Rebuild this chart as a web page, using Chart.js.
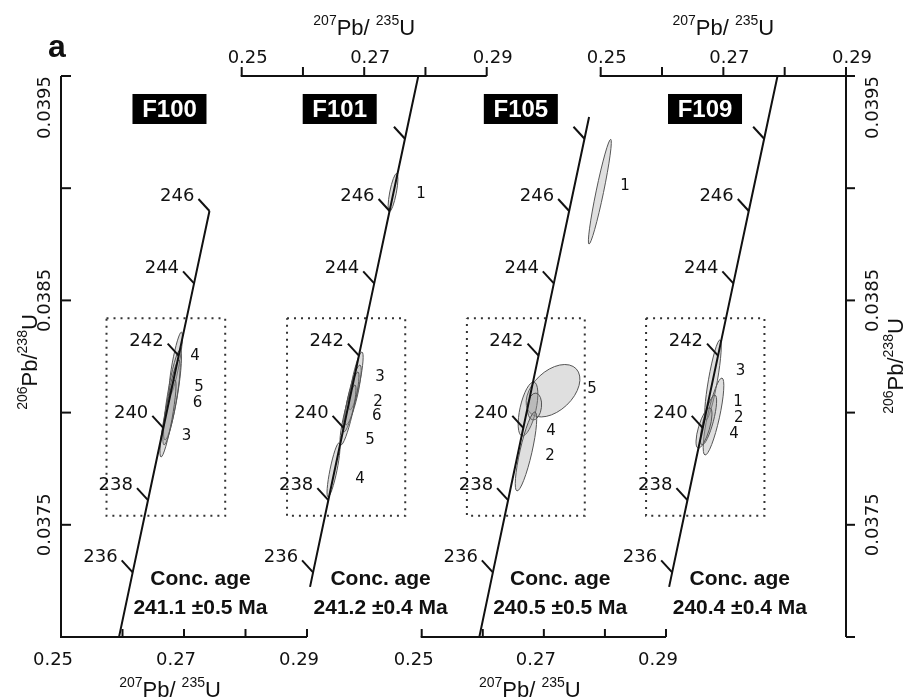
<!DOCTYPE html>
<html><head><meta charset="utf-8">
<script src="https://cdn.jsdelivr.net/npm/chart.js@4.4.0/dist/chart.umd.min.js"></script>
<style>html,body{margin:0;padding:0;background:#fff;}canvas{display:block;}</style>
</head><body>
<canvas id="c" width="913" height="700"></canvas>
<script>
// ---------------- DATA ----------------
const panelNames = ['F100', 'F101', 'F105', 'F109'];
const concAgeText = ['241.1 \u00b10.5 Ma', '241.2 \u00b10.4 Ma', '240.5 \u00b10.5 Ma', '240.4 \u00b10.4 Ma'];

// concordia (207Pb/235U, 206Pb/238U) at ages in Ma
const concordiaAges = [234, 236, 238, 240, 242, 244, 246, 248, 250];
const concordiaX = [0.259173, 0.261655, 0.264143, 0.266636, 0.269133, 0.271635, 0.274142, 0.276654, 0.279171];
const concordiaY = [0.0369661, 0.0372878, 0.0376097, 0.0379316, 0.0382538, 0.0385759, 0.0388982, 0.0392205, 0.0395430];
const endAges = [235.6, 248.6];
const endX = [0.261158, 0.277406];
const endY = [0.0372234, 0.0393173];
const lineFrom = [234, 235.6, 234, 235.6];
const lineTo = [246, 250, 248.6, 250];
const tickAges = [236, 238, 240, 242, 244, 246, 248];
const tickText = ['236', '238', '240', '242', '244', '246', ''];

const xTickValues = [0.25, 0.26, 0.27, 0.28, 0.29];
const xTickLabels = ['0.25', '', '0.27', '', '0.29'];
const yTickValues = [0.0375, 0.0380, 0.0385, 0.0390, 0.0395];
const yTickLabels = ['0.0375', '', '0.0385', '', '0.0395'];

// zoom window (dotted box) in each panel
const zoomBoxX = [0.2574, 0.2767];
const zoomBoxY = [0.03754, 0.03842];

// error ellipses: panel index, major-axis ends (x1,y1)-(x2,y2), minor half-width in 207/235 units
const ellPanel = [0, 0, 0, 0, 1, 1, 1, 1, 1, 1, 2, 2, 2, 2, 2, 3, 3, 3, 3];
const ellX1 = [0.26959, 0.26935, 0.26919, 0.26854, 0.27531, 0.26964, 0.26931, 0.26899, 0.26850, 0.26589, 0.28095, 0.27530, 0.26839, 0.26871, 0.26855, 0.26945, 0.26978, 0.26864, 0.26782];
const ellY1 = [0.038359, 0.038279, 0.038234, 0.038145, 0.039066, 0.038270, 0.038212, 0.038181, 0.038123, 0.037865, 0.039218, 0.038195, 0.038136, 0.038087, 0.038003, 0.038324, 0.038154, 0.038078, 0.038021];
const ellX2 = [0.26772, 0.26691, 0.26675, 0.26626, 0.27410, 0.26768, 0.26703, 0.26670, 0.26621, 0.26409, 0.27739, 0.26770, 0.26642, 0.26822, 0.26560, 0.26717, 0.26701, 0.26652, 0.26587];
const ellY2 = [0.038078, 0.037878, 0.037856, 0.037802, 0.038895, 0.038012, 0.037945, 0.037914, 0.037856, 0.037624, 0.038751, 0.038000, 0.037896, 0.037967, 0.037651, 0.037967, 0.037811, 0.037856, 0.037842];
const ellHalfW = [0.00057, 0.00081, 0.00073, 0.00065, 0.00054, 0.00065, 0.00073, 0.00065, 0.00065, 0.00057, 0.00061, 0.00325, 0.00131, 0.00115, 0.00098, 0.00073, 0.00098, 0.00082, 0.0009];

// analysis numbers
const numPanel = [0, 0, 0, 0, 1, 1, 1, 1, 1, 1, 2, 2, 2, 2, 3, 3, 3, 3];
const numText = ['4', '5', '6', '3', '1', '3', '2', '6', '5', '4', '1', '5', '4', '2', '3', '1', '2', '4'];
const numX = [0.27179, 0.27244, 0.27220, 0.27041, 0.27927, 0.27258, 0.27225, 0.27204, 0.27095, 0.26931, 0.28329, 0.27788, 0.27117, 0.27101, 0.27280, 0.27239, 0.27250, 0.27174];
const numY = [0.038252, 0.038112, 0.038043, 0.037896, 0.038974, 0.038160, 0.038047, 0.037985, 0.037878, 0.037704, 0.039010, 0.038105, 0.037918, 0.037807, 0.038183, 0.038045, 0.037976, 0.037905];

// sample tags and age text anchors (207/235 of each panel)
const tagX = [0.26764, 0.26600, 0.26623, 0.26701];
const tagY = 0.039353;
const ageTextX = 0.27268;
const ageTextY = [0.037232, 0.037102];

// ---------------- LAYOUT ----------------
const AREA = {left: 61, right: 846, top: 76, bottom: 637};
const panelLeftPx = [61, 241.7, 421.7, 600.7];
const panelRightPx = [307, 486.7, 666, 846];

function concPoint(age) {
  let i = concordiaAges.indexOf(age);
  if (i >= 0) return {x: concordiaX[i], y: concordiaY[i]};
  i = endAges.indexOf(age);
  return {x: endX[i], y: endY[i]};
}

const datasets = [];
for (let k = 0; k < 4; k++) {
  const ages = concordiaAges.concat(endAges).filter(a => a >= lineFrom[k] && a <= lineTo[k]).sort((a, b) => a - b);
  datasets.push({
    label: panelNames[k] + ' concordia', xAxisID: 'x' + k, yAxisID: 'y',
    data: ages.map(concPoint), showLine: true, borderColor: '#111', borderWidth: 2,
    pointRadius: 0, tension: 0
  });
  datasets.push({
    label: panelNames[k] + ' window', xAxisID: 'x' + k, yAxisID: 'y',
    data: [{x: zoomBoxX[0], y: zoomBoxY[1]}, {x: zoomBoxX[1], y: zoomBoxY[1]}, {x: zoomBoxX[1], y: zoomBoxY[0]},
           {x: zoomBoxX[0], y: zoomBoxY[0]}, {x: zoomBoxX[0], y: zoomBoxY[1]}],
    showLine: true, borderColor: '#333', borderWidth: 2, borderDash: [2, 5], pointRadius: 0, tension: 0
  });
}

const scales = {
  y: {type: 'linear', display: false, min: 0.0370, max: 0.0395, bounds: 'data'}
};
for (let k = 0; k < 4; k++) {
  const s = (panelRightPx[k] - panelLeftPx[k]) / 0.04;
  const mn = 0.25 - (panelLeftPx[k] - AREA.left) / s;
  scales['x' + k] = {type: 'linear', display: false, bounds: 'data', min: mn, max: mn + (AREA.right - AREA.left) / s};
}

const NUMF = '18px "DejaVu Sans"';
const AGEF = '18px "DejaVu Sans"';

function drawParts(ctx, parts, cx, base) {
  const big = '22px "Liberation Sans"', small = '14px "Liberation Sans"';
  let total = 0;
  parts.forEach(p => { ctx.font = p[1] ? small : big; total += ctx.measureText(p[0]).width; });
  let x = cx - total / 2;
  ctx.textAlign = 'left'; ctx.textBaseline = 'alphabetic';
  parts.forEach(p => {
    ctx.font = p[1] ? small : big;
    ctx.fillText(p[0], x, p[1] ? base - 10 : base);
    x += ctx.measureText(p[0]).width;
  });
}
function drawXTitle(ctx, cx, base) {
  drawParts(ctx, [['207', true], ['Pb/ ', false], ['235', true], ['U', false]], cx, base);
}
function drawYTitle(ctx, cx, cy) {
  ctx.save();
  ctx.translate(cx, cy); ctx.rotate(-Math.PI / 2);
  drawParts(ctx, [['206', true], ['Pb/', false], ['238', true], ['U', false]], 0, 0);
  ctx.restore();
}

const overlay = {
  id: 'overlay',
  beforeDatasetsDraw(chart) {
    const ctx = chart.ctx, ys = chart.scales.y;
    ctx.save();
    for (let i = 0; i < ellPanel.length; i++) {
      const xs = chart.scales['x' + ellPanel[i]];
      const ax = xs.getPixelForValue(ellX1[i]), ay = ys.getPixelForValue(ellY1[i]);
      const bx = xs.getPixelForValue(ellX2[i]), by = ys.getPixelForValue(ellY2[i]);
      const a = Math.hypot(bx - ax, by - ay) / 2;
      const b = xs.getPixelForValue(ellX1[i] + ellHalfW[i]) - ax;
      ctx.beginPath();
      ctx.ellipse((ax + bx) / 2, (ay + by) / 2, a, b, Math.atan2(by - ay, bx - ax), 0, Math.PI * 2);
      ctx.fillStyle = 'rgba(150,150,150,0.3)';
      ctx.fill();
      ctx.lineWidth = 1; ctx.strokeStyle = '#555';
      ctx.stroke();
    }
    ctx.restore();
  },
  afterDatasetsDraw(chart) {
    const ctx = chart.ctx, ys = chart.scales.y;
    const X = (k, v) => chart.scales['x' + k].getPixelForValue(v);
    const Y = v => ys.getPixelForValue(v);
    const yTop = Y(0.0395), yBot = Y(0.0370);
    ctx.save();
    ctx.strokeStyle = '#111'; ctx.fillStyle = '#111'; ctx.lineWidth = 2; ctx.lineCap = 'butt';

    // left y axis
    const xl = X(0, 0.25);
    ctx.beginPath(); ctx.moveTo(xl, yTop); ctx.lineTo(xl, yBot + 1); ctx.stroke();
    yTickValues.forEach(v => { ctx.beginPath(); ctx.moveTo(xl, Y(v)); ctx.lineTo(xl + 10, Y(v)); ctx.stroke(); });
    // right y axis
    const xr = X(3, 0.29);
    ctx.beginPath(); ctx.moveTo(xr, yTop - 9); ctx.lineTo(xr, yBot); ctx.stroke();
    yTickValues.concat([0.0370]).forEach(v => { ctx.beginPath(); ctx.moveTo(xr, Y(v)); ctx.lineTo(xr + 9, Y(v)); ctx.stroke(); });

    // y tick labels
    ctx.font = NUMF; ctx.textAlign = 'center'; ctx.textBaseline = 'middle';
    yTickValues.forEach((v, i) => {
      if (!yTickLabels[i]) return;
      const h = ctx.measureText(yTickLabels[i]).width / 2;
      const cy = Math.max(Y(v), yTop + h);
      [xl - 16, xr + 27].forEach(cx => {
        ctx.save(); ctx.translate(cx, cy); ctx.rotate(-Math.PI / 2);
        ctx.fillText(yTickLabels[i], 0, 0); ctx.restore();
      });
    });

    // x axes: bottom for panels 0,2 ; top for panels 1,3
    for (let k = 0; k < 4; k++) {
      const bottom = (k % 2 === 0);
      const yy = bottom ? yBot : yTop;
      const x0 = X(k, 0.25), x1 = X(k, 0.29) + (k === 3 ? 9 : 0);
      ctx.beginPath(); ctx.moveTo(x0 - 1, yy); ctx.lineTo(x1, yy); ctx.stroke();
      xTickValues.forEach((v, i) => {
        const xx = X(k, v);
        ctx.beginPath(); ctx.moveTo(xx, yy); ctx.lineTo(xx, yy - (bottom ? 8 : 9)); ctx.stroke();
        if (xTickLabels[i]) {
          ctx.font = NUMF; ctx.textAlign = 'center'; ctx.textBaseline = 'alphabetic';
          ctx.fillText(xTickLabels[i], bottom ? xx - 8 : xx + 6, bottom ? yy + 28 : yy - 13);
        }
      });
      if (bottom) drawXTitle(ctx, X(k, 0.27) - 14, yy + 60);
      else drawXTitle(ctx, X(k, 0.27), yy - 41);
    }

    // y titles
    drawYTitle(ctx, 37, 362);
    drawYTitle(ctx, 903, 366);

    // concordia age ticks
    for (let k = 0; k < 4; k++) {
      tickAges.forEach((age, i) => {
        if (age > lineTo[k] || age < lineFrom[k]) return;
        const p = concPoint(age);
        const px = X(k, p.x), py = Y(p.y);
        ctx.lineWidth = 2;
        ctx.beginPath(); ctx.moveTo(px, py); ctx.lineTo(px - 11, py - 12); ctx.stroke();
        if (tickText[i]) {
          ctx.font = AGEF; ctx.textAlign = 'right'; ctx.textBaseline = 'alphabetic';
          ctx.fillText(tickText[i], px - 15, py - 10);
        }
      });
    }

    // analysis numbers
    ctx.font = '15px "DejaVu Sans"'; ctx.textAlign = 'center'; ctx.textBaseline = 'middle';
    for (let i = 0; i < numText.length; i++) {
      ctx.fillText(numText[i], X(numPanel[i], numX[i]), Y(numY[i]));
    }

    // sample tags
    for (let k = 0; k < 4; k++) {
      const cx = X(k, tagX[k]), cy = Y(tagY);
      ctx.fillStyle = '#000';
      ctx.fillRect(cx - 37, cy - 15, 74, 30);
      ctx.fillStyle = '#fff';
      ctx.font = 'bold 24px "Liberation Sans"'; ctx.textAlign = 'center'; ctx.textBaseline = 'middle';
      ctx.fillText(panelNames[k], cx, cy + 1);
      ctx.fillStyle = '#111';
      // concordia age text
      ctx.font = 'bold 21px "Liberation Sans"'; ctx.textBaseline = 'alphabetic';
      ctx.fillText('Conc. age', X(k, ageTextX), Y(ageTextY[0]));
      ctx.fillText(concAgeText[k], X(k, ageTextX), Y(ageTextY[1]));
    }

    // panel letter
    ctx.font = 'bold 32px "Liberation Sans"'; ctx.textAlign = 'left'; ctx.textBaseline = 'alphabetic';
    ctx.fillText('a', 48, 57);
    ctx.restore();
  }
};

new Chart(document.getElementById('c'), {
  type: 'scatter',
  data: {datasets},
  options: {
    responsive: false, animation: false, devicePixelRatio: 1,
    layout: {padding: {left: AREA.left, right: 913 - AREA.right, top: AREA.top, bottom: 700 - AREA.bottom}},
    plugins: {legend: {display: false}, tooltip: {enabled: false}, title: {display: false}},
    scales
  },
  plugins: [overlay]
});
</script>
</body></html>
